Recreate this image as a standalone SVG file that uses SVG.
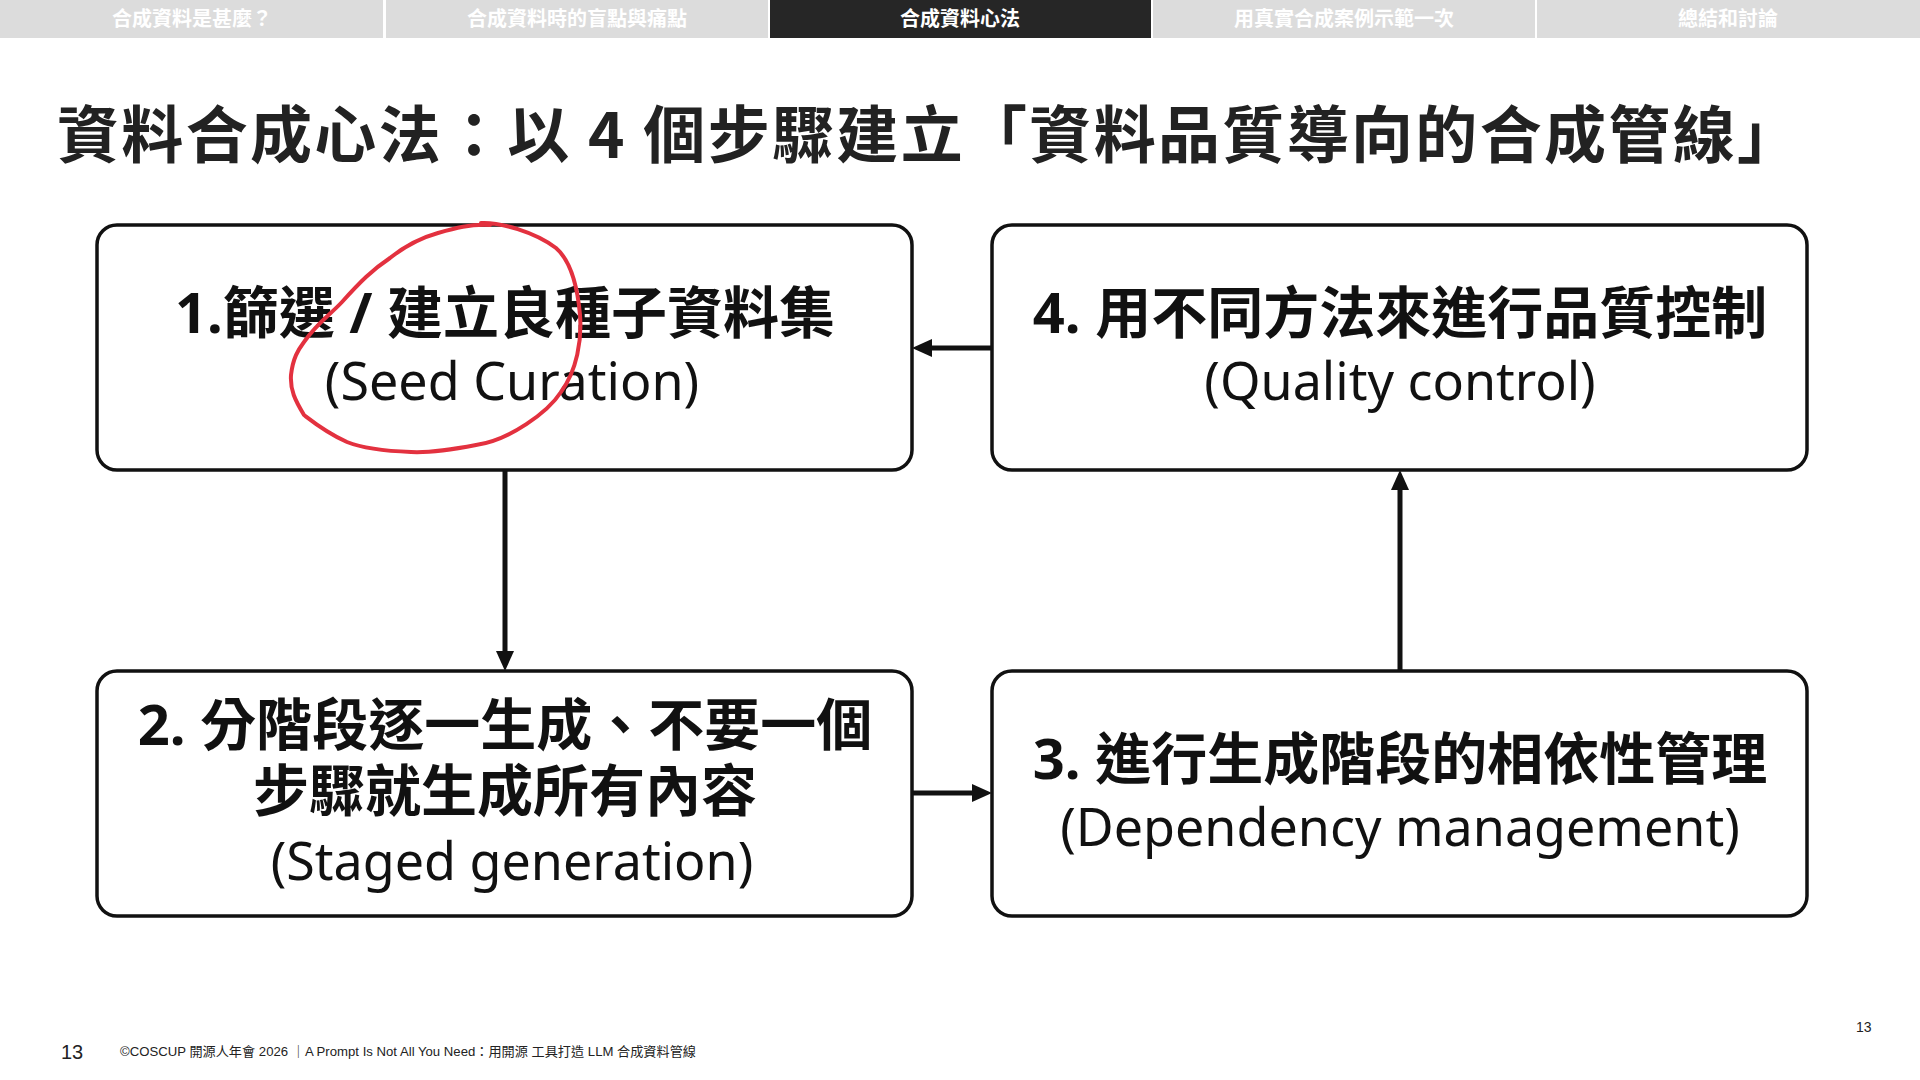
<svg xmlns="http://www.w3.org/2000/svg" width="1920" height="1080" viewBox="0 0 1920 1080">
<style>
.tab{fill:#dcdcdc}
.tab-on{fill:#262626}
.tabt{font-family:"Noto Sans CJK TC","Noto Sans",sans-serif;font-weight:700;font-size:20px;fill:#ffffff;text-anchor:middle}
.title{font-family:"Noto Sans CJK TC","Noto Sans",sans-serif;font-weight:700;font-size:62px;fill:#222222}
.box{fill:#ffffff;stroke:#111111;stroke-width:3.5}
.zh{font-family:"Noto Sans","Noto Sans CJK TC",sans-serif;font-weight:700;font-size:56px;fill:#111111;text-anchor:middle}
.en{font-family:"Noto Sans","Noto Sans CJK TC",sans-serif;font-weight:400;font-size:52px;fill:#111111;text-anchor:middle}
.conn{stroke:#111111;stroke-width:5;fill:none}
.foot{font-family:"Liberation Sans","Noto Sans CJK TC",sans-serif;fill:#222222}
</style>
<defs>
<marker id="ah" markerUnits="userSpaceOnUse" markerWidth="20" markerHeight="18" refX="8" refY="9" orient="auto">
<path d="M0,0 L20,9 L0,18 z" fill="#111111"/>
</marker>
</defs>
<rect width="1920" height="1080" fill="#ffffff"/>
<g id="tabs">
<rect class="tab" x="0" y="0" width="383" height="38"/>
<rect class="tab" x="386" y="0" width="382" height="38"/>
<rect class="tab-on" x="770" y="0" width="381" height="38"/>
<rect class="tab" x="1153" y="0" width="382" height="38"/>
<rect class="tab" x="1537" y="0" width="383" height="38"/>
<text class="tabt" x="192" y="26">合成資料是甚麼？</text>
<text class="tabt" x="577" y="26">合成資料時的盲點與痛點</text>
<text class="tabt" x="960" y="26">合成資料心法</text>
<text class="tabt" x="1344" y="26">用真實合成案例示範一次</text>
<text class="tabt" x="1728" y="26">總結和討論</text>
</g>
<text class="title" x="57" y="158" textLength="1742" lengthAdjust="spacing">資料合成心法：以 4 個步驟建立「資料品質導向的合成管線」</text>
<g id="connectors">
<line class="conn" x1="992" y1="348" x2="924" y2="348" marker-end="url(#ah)"/>
<line class="conn" x1="505" y1="470" x2="505" y2="659" marker-end="url(#ah)"/>
<line class="conn" x1="912" y1="793" x2="980" y2="793" marker-end="url(#ah)"/>
<line class="conn" x1="1400" y1="671" x2="1400" y2="482" marker-end="url(#ah)"/>
</g>
<g id="node1">
<rect class="box" x="97" y="225" width="815" height="245" rx="20"/>
<text class="zh" x="505" y="333">1.篩選 / 建立良種子資料集</text>
<text class="en" x="512" y="400">(Seed Curation)</text>
</g>
<g id="node4">
<rect class="box" x="992" y="225" width="815" height="245" rx="20"/>
<text class="zh" x="1400" y="333">4. 用不同方法來進行品質控制</text>
<text class="en" x="1400" y="400">(Quality control)</text>
</g>
<g id="node2">
<rect class="box" x="97" y="671" width="815" height="245" rx="20"/>
<text class="zh"><tspan x="505" y="745">2. 分階段逐一生成、不要一個</tspan><tspan x="505" y="811">步驟就生成所有內容</tspan></text>
<text class="en" x="512" y="880">(Staged generation)</text>
</g>
<g id="node3">
<rect class="box" x="992" y="671" width="815" height="245" rx="20"/>
<text class="zh" x="1400" y="779">3. 進行生成階段的相依性管理</text>
<text class="en" x="1400" y="846">(Dependency management)</text>
</g>
<path id="annotation" d="M481,223 C500,222 535,232 556,248 C572,262 578,292 580,315 C582,340 577,370 561,392 C548,412 510,440 476,445 C450,450 430,453 411,452 C385,451 362,448 347,442 C325,432 308,418 304,415 C295,400 290,390 291,375 C293,358 298,350 304,342 C318,322 330,315 342,302 C360,282 372,270 390,258 C405,246 420,238 438,233 C455,228 470,224 490,225" fill="none" stroke="#e3313f" stroke-width="4" stroke-linecap="round"/>
<g id="footer">
<text class="foot" x="61" y="1059" font-size="20">13</text>
<text class="foot" x="120" y="1056" font-size="13" textLength="576" lengthAdjust="spacingAndGlyphs">©COSCUP 開源人年會 2026 ｜A Prompt Is Not All You Need：用開源 工具打造 LLM 合成資料管線</text>
<text class="foot" x="1856" y="1032" font-size="14">13</text>
</g>
</svg>
